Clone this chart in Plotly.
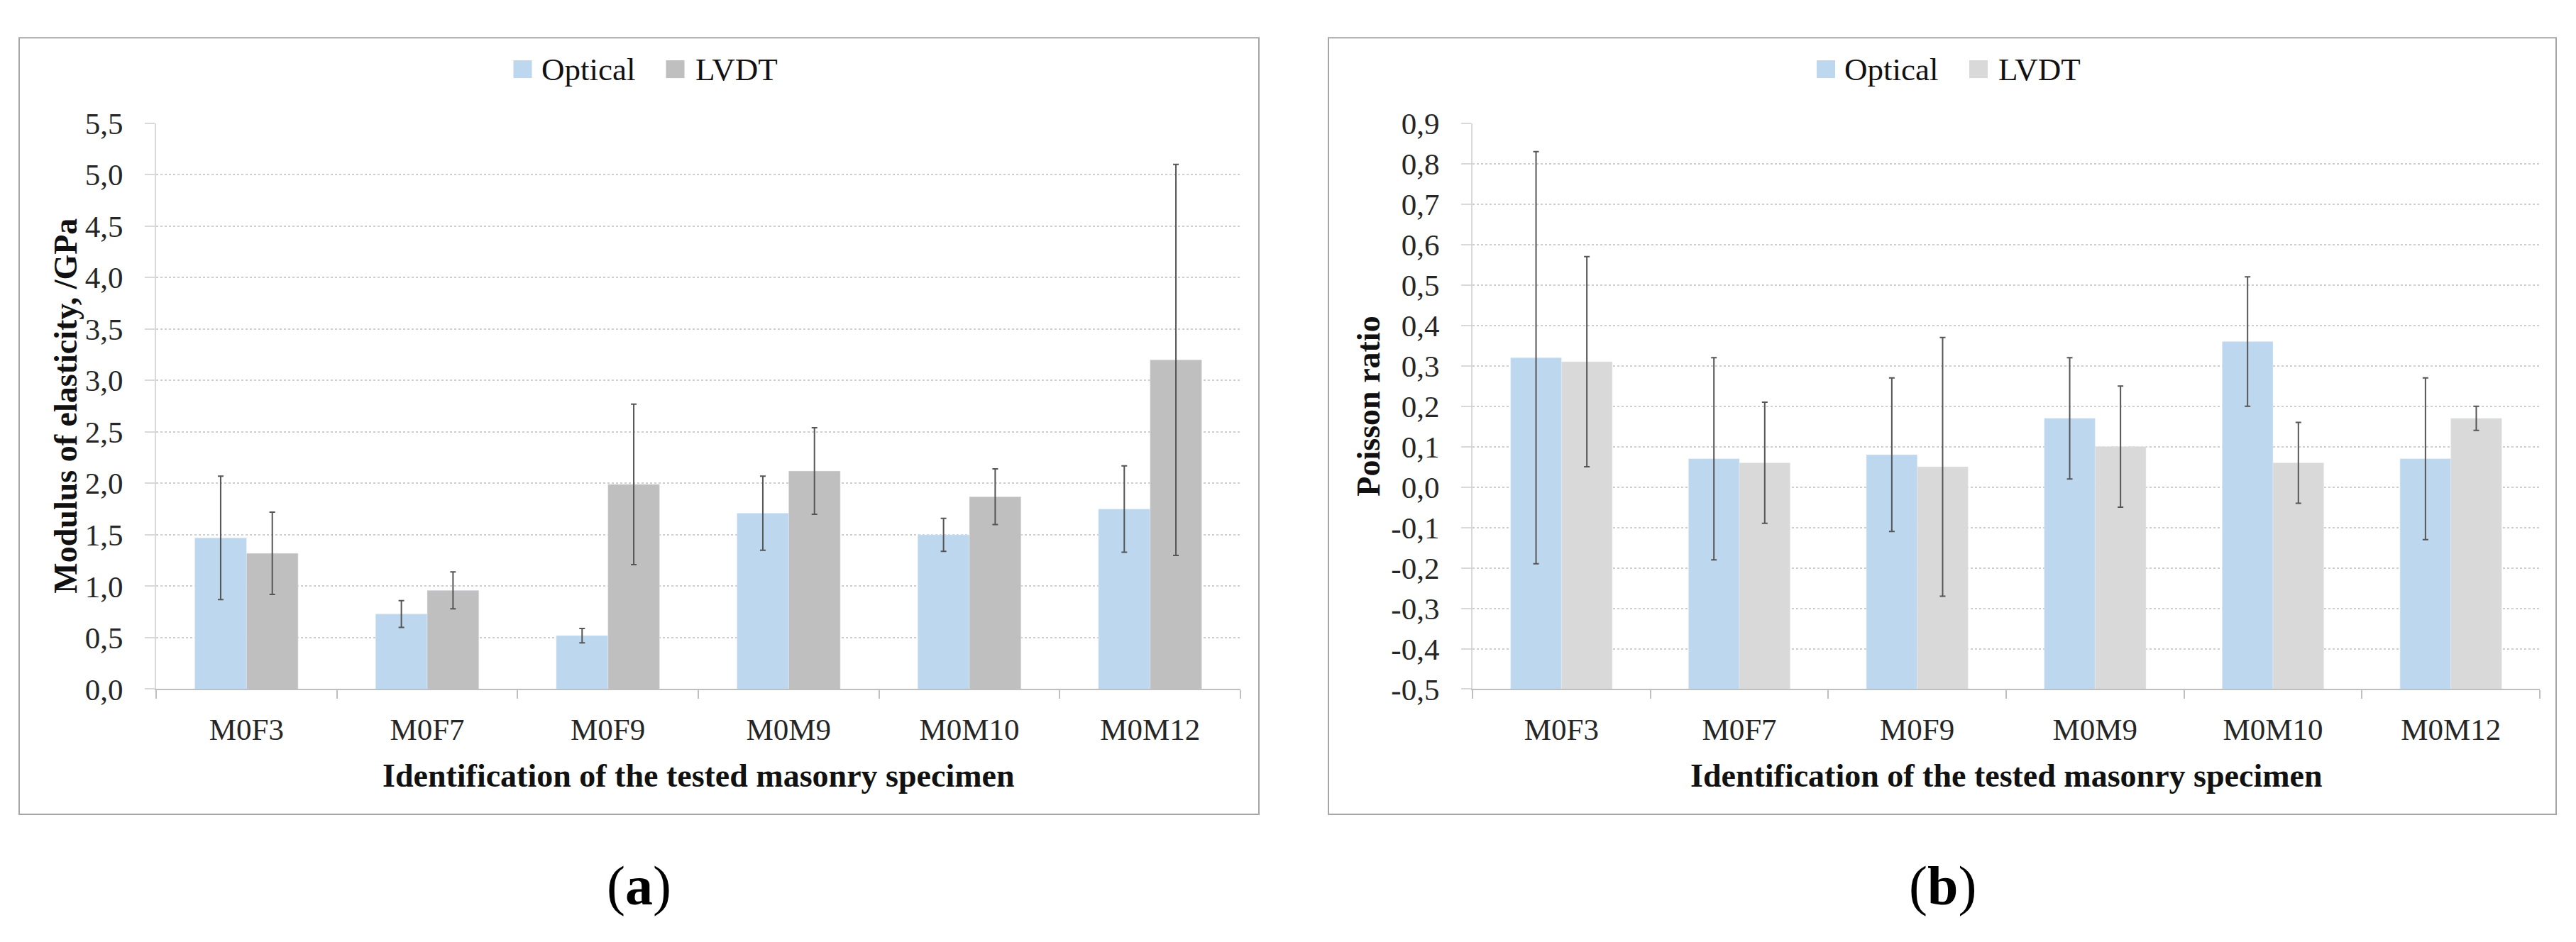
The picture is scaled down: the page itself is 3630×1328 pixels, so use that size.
import plotly.graph_objects as go

W, H = 3630, 1328

specimens = ["M0F3", "M0F7", "M0F9", "M0M9", "M0M10", "M0M12"]
series_names = ["Optical", "LVDT"]

# Panel (a): modulus of elasticity, GPa
modulus_optical = [1.47, 0.73, 0.52, 1.71, 1.50, 1.75]
modulus_optical_err = [0.60, 0.13, 0.07, 0.36, 0.16, 0.42]
modulus_lvdt = [1.32, 0.96, 1.99, 2.12, 1.87, 3.20]
modulus_lvdt_err = [0.40, 0.18, 0.78, 0.42, 0.27, 1.90]

# Panel (b): Poisson ratio
poisson_optical = [0.32, 0.07, 0.08, 0.17, 0.36, 0.07]
poisson_optical_err = [0.51, 0.25, 0.19, 0.15, 0.16, 0.20]
poisson_lvdt = [0.31, 0.06, 0.05, 0.10, 0.06, 0.17]
poisson_lvdt_err = [0.26, 0.15, 0.32, 0.15, 0.10, 0.03]

poisson_axis_base = -0.5  # horizontal axis crosses at -0.5, bars rise from there

# tick labels of panel (b) (hyphen minus, comma decimal as in the original)
poisson_tickvals = [-0.5, -0.4, -0.3, -0.2, -0.1, 0.0, 0.1, 0.2, 0.3, 0.4, 0.5, 0.6, 0.7, 0.8, 0.9]
poisson_ticktext = ["-0,5", "-0,4", "-0,3", "-0,2", "-0,1", "0,0", "0,1", "0,2", "0,3",
                    "0,4", "0,5", "0,6", "0,7", "0,8", "0,9"]

y_title_a = "Modulus of elasticity, /GPa"
y_title_b = "Poisson ratio"
x_title = "Identification of the tested masonry specimen"

C_OPT = "#BDD7EE"
C_LVDT_A = "#BFBFBF"
C_LVDT_B = "#D9D9D9"
C_ERR = "#555555"
FONT = "Liberation Serif"
TXT = "#262626"

def px(x):
    return x / W

def py(y):
    return 1 - y / H

fig = go.Figure()

def err(vals):
    return dict(type="data", array=vals, visible=True, color=C_ERR, thickness=2, width=4)

fig.add_trace(go.Bar(x=specimens, y=modulus_optical, name=series_names[0], marker_color=C_OPT,
                     error_y=err(modulus_optical_err), xaxis="x", yaxis="y", showlegend=False))
fig.add_trace(go.Bar(x=specimens, y=modulus_lvdt, name=series_names[1], marker_color=C_LVDT_A,
                     error_y=err(modulus_lvdt_err), xaxis="x", yaxis="y", showlegend=False))
fig.add_trace(go.Bar(x=specimens, y=[v - poisson_axis_base for v in poisson_optical], base=poisson_axis_base,
                     name=series_names[0], marker_color=C_OPT,
                     error_y=err(poisson_optical_err), xaxis="x2", yaxis="y2", showlegend=False))
fig.add_trace(go.Bar(x=specimens, y=[v - poisson_axis_base for v in poisson_lvdt], base=poisson_axis_base,
                     name=series_names[1], marker_color=C_LVDT_B,
                     error_y=err(poisson_lvdt_err), xaxis="x2", yaxis="y2", showlegend=False))

# plot-area geometry (pixels)
A_L, A_R = 212, 1740
B_L, B_R = 2067, 3571
P_T, P_B = 148, 975
FRAME_A = (19, 23, 1766, 1158)
FRAME_B = (1864, 23, 3594, 1158)

xaxis_common = dict(
    type="category", showgrid=False, showline=True, linecolor="#BFBFBF", linewidth=2,
    ticks="outside", tickson="boundaries", ticklen=12, tickcolor="#BFBFBF", tickwidth=2,
    tickfont=dict(family=FONT, size=43, color=TXT), ticklabelstandoff=18, zeroline=False,
)
yaxis_common = dict(
    showgrid=True, gridcolor="#CFCFCF", gridwidth=2, griddash="dot",
    showline=True, linecolor="#D9D9D9", linewidth=2, ticks="outside", ticklen=14,
    tickcolor="#D9D9D9", tickwidth=2, tickformat=".1f", zeroline=False,
    tickfont=dict(family=FONT, size=43, color=TXT), ticklabelstandoff=22,
)

fig.update_layout(
    width=W, height=H, margin=dict(l=0, r=0, t=0, b=0),
    paper_bgcolor="white", plot_bgcolor="white",
    barmode="group", bargap=0.4286, bargroupgap=0,
    separators=", ",
    xaxis=dict(domain=[px(A_L), px(A_R)], anchor="y", **xaxis_common),
    yaxis=dict(domain=[py(P_B), py(P_T)], anchor="x", range=[0, 5.5], dtick=0.5, **yaxis_common),
    xaxis2=dict(domain=[px(B_L), px(B_R)], anchor="y2", **xaxis_common),
    yaxis2=dict(domain=[py(P_B), py(P_T)], anchor="x2", range=[-0.5, 0.9],
                tickmode="array", tickvals=poisson_tickvals, ticktext=poisson_ticktext, **yaxis_common),
)

shapes = []
annotations = []
for (x0, y0, x1, y1) in (FRAME_A, FRAME_B):
    shapes.append(dict(type="rect", xref="paper", yref="paper", x0=px(x0), x1=px(x1), y0=py(y1), y1=py(y0),
                       line=dict(color="#A6A6A6", width=2), fillcolor="rgba(0,0,0,0)", layer="below"))

panels = [
    (FRAME_A, (A_L + A_R) / 2, y_title_a, 85, C_LVDT_A, "a"),
    (FRAME_B, (B_L + B_R) / 2, y_title_b, 1921, C_LVDT_B, "b"),
]
LEG_Y = 69
SW = 26
for frame, pc, ytitle, ytx, lvdt_col, letter in panels:
    fc = (frame[0] + frame[2]) / 2
    # legend swatches + labels
    for off_sw, off_tx, col, name in ((-177, -140, C_OPT, series_names[0]), (38, 77, lvdt_col, series_names[1])):
        shapes.append(dict(type="rect", xref="paper", yref="paper",
                           x0=px(fc + off_sw), x1=px(fc + off_sw + SW),
                           y0=py(LEG_Y + SW / 2), y1=py(LEG_Y - SW / 2),
                           line=dict(width=0), fillcolor=col))
        annotations.append(dict(xref="paper", yref="paper", x=px(fc + off_tx), y=py(LEG_Y),
                                xanchor="left", yanchor="middle", showarrow=False, text=name,
                                font=dict(family=FONT, size=45, color="#111111")))
    # x axis title
    annotations.append(dict(xref="paper", yref="paper", x=px(pc), y=py(1101), xanchor="center",
                            yanchor="middle", showarrow=False, text="<b>" + x_title + "</b>",
                            font=dict(family=FONT, size=46, color="#111111")))
    # y axis title
    annotations.append(dict(xref="paper", yref="paper", x=px(ytx), y=py((P_T + P_B) / 2), xanchor="center",
                            yanchor="middle", showarrow=False, text="<b>" + ytitle + "</b>", textangle=-90,
                            font=dict(family=FONT, size=46, color="#111111")))
    # caption
    annotations.append(dict(xref="paper", yref="paper", x=px(fc), y=py(1262), xanchor="center",
                            yanchor="middle", showarrow=False, text="(<b>" + letter + "</b>)",
                            font=dict(family=FONT, size=78, color="#000000")))

fig.update_layout(shapes=shapes, annotations=annotations)
fig.write_html("out.html")
